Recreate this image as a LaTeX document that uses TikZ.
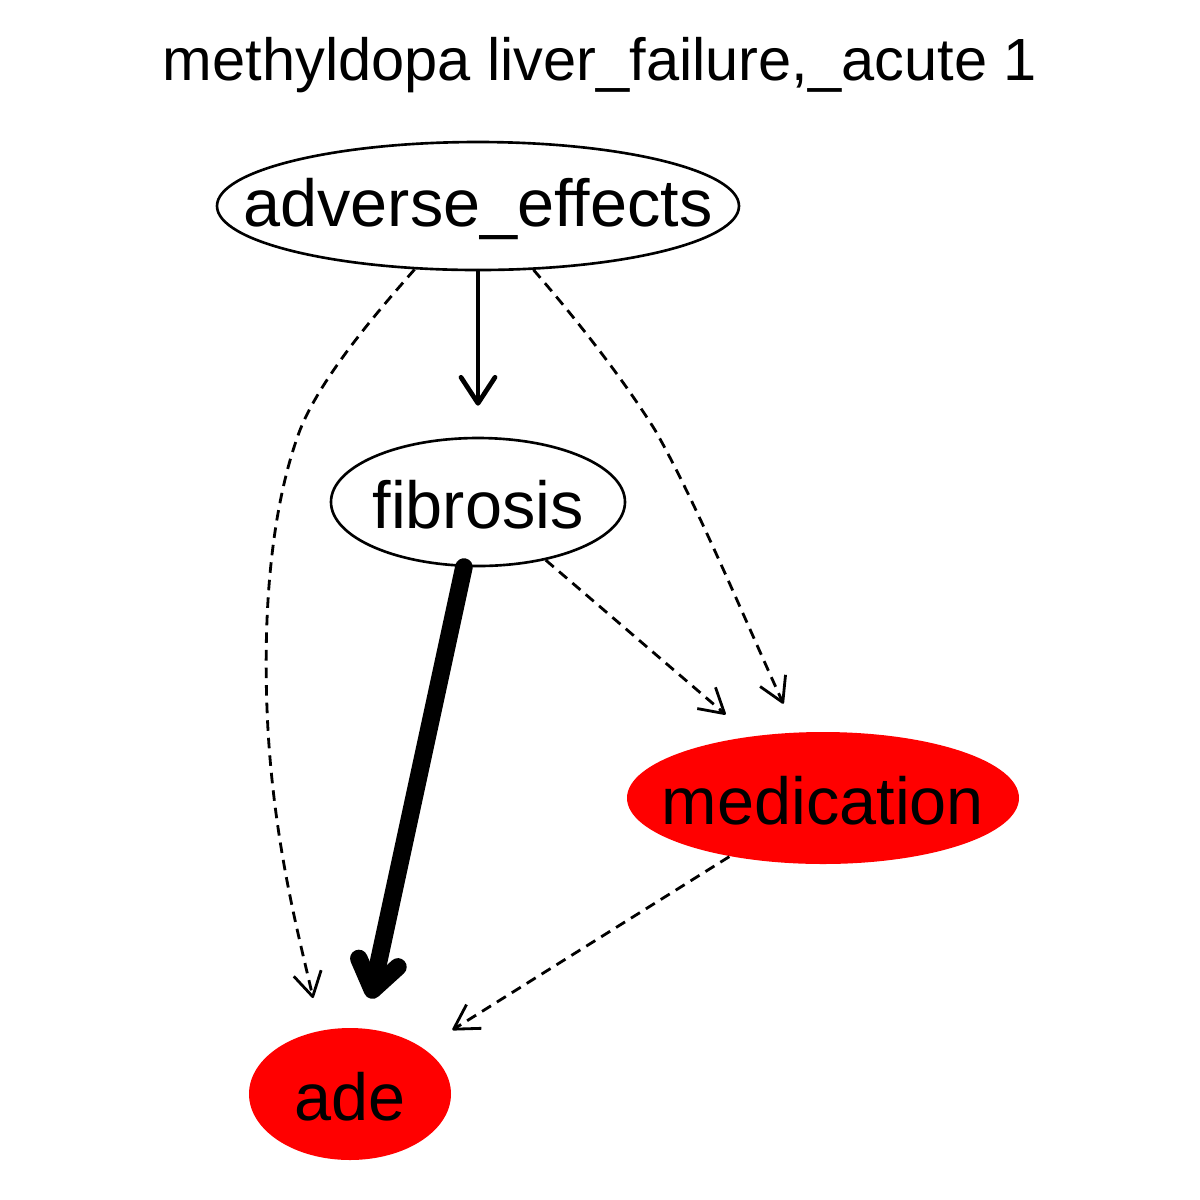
\documentclass[tikz,border=0pt]{standalone}
\usepackage{fontspec}
\setmainfont{Liberation Sans}
\usetikzlibrary{arrows.meta, shapes.geometric}
\definecolor{nodered}{RGB}{255,0,0}
\tikzset{
  EL/.style={ellipse,draw=black,line width=0.75pt,inner sep=0pt},
  RD/.style={ellipse,fill=nodered,inner sep=0pt},
  TX/.style={font=\fontsize{18.95}{22}\selectfont,yshift=-0.03cm},
  SE/.style={-{Straight Barb[length=2.6mm,width=3.4mm,line join=round,line cap=round]},line width=1.35pt,line cap=round},
  TE/.style={-{Straight Barb[length=2.8mm,width=4.0mm,line join=round,line cap=round]},line width=5pt,line cap=round},
  DE/.style={-{Straight Barb[length=2.4mm,width=2.8mm,line join=round]},line width=0.8pt,dash pattern=on 3pt off 2pt},
}
\begin{document}
\begin{tikzpicture}
\useasboundingbox[fill=white] (0,0) rectangle (12,-12);

% title
\node[font=\fontsize{16.95}{20}\selectfont] (title) at (6.00,-0.65) {methyldopa liver\_failure,\_acute 1};

% nodes
\node[EL,minimum width=5.22cm,minimum height=1.28cm,label={[TX]center:adverse\_effects}] (ae) at (4.78,-2.06) {};
\node[EL,minimum width=2.94cm,minimum height=1.28cm,label={[TX]center:fibrosis}] (fib) at (4.78,-5.02) {};
\node[RD,minimum width=3.92cm,minimum height=1.32cm,label={[TX]center:medication}] (med) at (8.23,-7.98) {};
\node[RD,minimum width=2.02cm,minimum height=1.32cm,label={[TX]center:ade}] (ade) at (3.50,-10.94) {};

% edges
\draw[SE,shorten >=0.31cm] (ae) -- (fib);
\draw[TE,shorten >=0.30cm] (fib) -- (ade);
\draw[DE,shorten >=0.33cm] (fib) -- (med);
\draw[DE,shorten >=0.34cm] (med) -- (ade);
\draw[DE,shorten >=0.33cm] (ae.225) .. controls (3.70,-3.20) and (3.20,-3.80) .. (3.00,-4.30)
  .. controls (2.70,-5.10) and (2.62,-6.20) .. (2.68,-7.30)
  .. controls (2.75,-8.50) and (3.00,-9.40) .. (ade.115);
\draw[DE,shorten >=0.31cm] (ae.-49) .. controls (5.90,-3.35) and (6.30,-3.90) .. (6.55,-4.30)
  .. controls (6.95,-5.00) and (7.45,-6.20) .. (med.112);

\end{tikzpicture}
\end{document}
